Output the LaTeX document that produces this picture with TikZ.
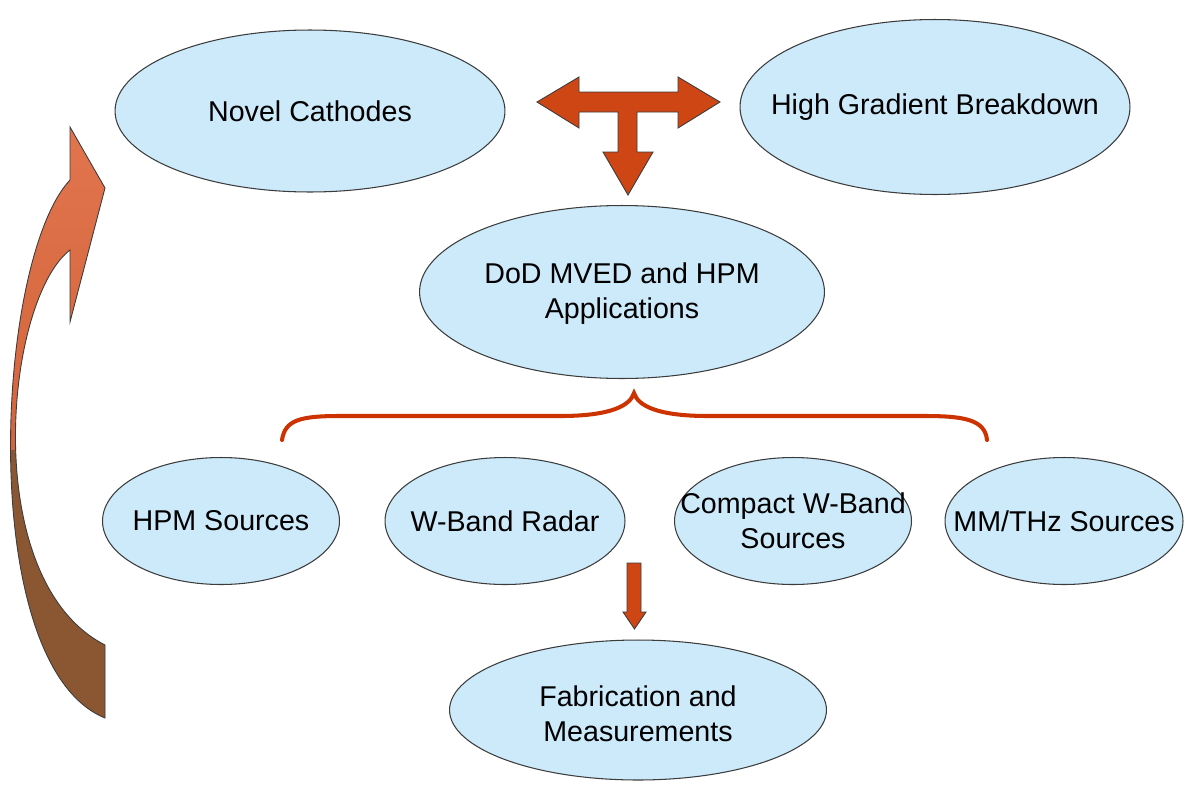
\documentclass[tikz,border=0pt]{standalone}
\usepackage{fontspec}
\setmainfont{Liberation Sans}
\usetikzlibrary{shapes.geometric}
\definecolor{ellfill}{RGB}{204,234,250}
\definecolor{ellline}{RGB}{60,60,60}
\definecolor{arrowred}{RGB}{206,70,20}
\definecolor{bracered}{RGB}{204,51,0}
\definecolor{curvetop}{RGB}{226,118,78}
\definecolor{curvemid}{RGB}{212,100,60}
\definecolor{curvebot}{RGB}{139,87,50}
\tikzset{
  bubble/.style={ellipse, draw=ellline, line width=0.6pt, fill=ellfill, inner sep=0pt},
  lbl/.style={font=\fontsize{16.3}{20}\selectfont, align=center, inner sep=0pt},
  bigarrow/.style={fill=arrowred, draw=ellline, line width=0.5pt, line join=miter},
}
\begin{document}
\begin{tikzpicture}[x=0.02cm,y=-0.02cm]
\useasboundingbox (0,0) rectangle (1189,788);

% ellipses
\node[bubble, minimum width=7.8cm, minimum height=3.24cm] (nc) at (310,111) {};
\node[bubble, minimum width=7.8cm, minimum height=3.5cm] (hg) at (935,107) {};
\node[bubble, minimum width=8.1cm, minimum height=3.46cm] (dod) at (622,292) {};
\node[bubble, minimum width=4.74cm, minimum height=2.54cm] (hpm) at (221,521) {};
\node[bubble, minimum width=4.8cm, minimum height=2.54cm] (wbr) at (505,521) {};
\node[bubble, minimum width=4.74cm, minimum height=2.54cm] (cwb) at (793,521) {};
\node[bubble, minimum width=4.76cm, minimum height=2.54cm] (mmt) at (1064,521) {};
\node[bubble, minimum width=7.54cm, minimum height=2.8cm] (fab) at (638,710) {};

% labels
\node[lbl] (tnc) at (nc.center) {Novel Cathodes};
\node[lbl] (thg) at (hg.center) {High Gradient Breakdown};
\node[lbl] (tdod) at ([yshift=-0.04cm]dod.center) {DoD MVED and HPM\\Applications};
\node[lbl] (thpm) at (hpm.center) {HPM Sources};
\node[lbl] (twbr) at (wbr.center) {W-Band Radar};
\node[lbl] (tcwb) at (cwb.center) {Compact W-Band\\Sources};
\node[lbl] (tmmt) at (mmt.center) {MM/THz Sources};
\node[lbl] (tfab) at ([yshift=-0.08cm]fab.center) {Fabrication and\\Measurements};

% T-shaped arrow
\draw[bigarrow] (537,102) -- (579,77) -- (579,92) -- (678,92) -- (678,77) -- (720,102)
  -- (678,128) -- (678,112) -- (637,112) -- (637,152) -- (653,152) -- (628,195)
  -- (603,152) -- (618,152) -- (618,112) -- (579,112) -- (579,128) -- cycle;

% small down arrow
\draw[bigarrow] (627,563) -- (641,563) -- (641,612) -- (646,612) -- (634.5,629)
  -- (623,612) -- (627,612) -- cycle;

% brace
\draw[bracered, line width=2.3pt, line cap=round]
  (282,440) .. controls (285,420) and (300,416) .. (340,416) -- (560,416)
  .. controls (610,416) and (630,406) .. (634,393)
  .. controls (638,406) and (658,416) .. (708,416) -- (925,416)
  .. controls (965,416) and (985,420) .. (987,440);

% curved arrow
\begin{scope}
  \clip (70,180) -- (70,127) -- (105,188) -- (70,322) -- (70,250)
    .. controls (5,300) and (-22,580) .. (105,645) -- (105,718)
    .. controls (-25,665) and (-5,260) .. (70,180) -- cycle;
  \shade[top color=curvetop, bottom color=curvemid] (-10,100) rectangle (130,450);
  \fill[curvebot] (-10,450) rectangle (130,730);
\end{scope}
\draw[draw=ellline, line width=0.5pt, line join=miter]
  (70,180) -- (70,127) -- (105,188) -- (70,322) -- (70,250)
  .. controls (5,300) and (-22,580) .. (105,645) -- (105,718)
  .. controls (-25,665) and (-5,260) .. (70,180) -- cycle;
\end{tikzpicture}
\end{document}
